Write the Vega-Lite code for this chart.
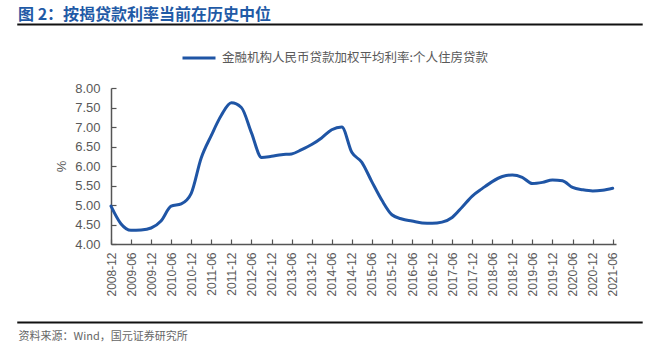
{
  "$schema": "https://vega.github.io/schema/vega-lite/v6.json",
  "autosize": {"type": "none"},
  "padding": {"left": 111, "top": 88, "right": 52, "bottom": 110},
  "width": 505,
  "height": 156,
  "background": "white",
  "title": {
    "text": "图 2：按揭贷款利率当前在历史中位",
    "anchor": "start",
    "frame": "group",
    "dx": -93,
    "font": "Noto Sans CJK SC",
    "fontSize": 16,
    "fontWeight": "bold",
    "color": "#1f5aa6",
    "offset": 0
  },
  "config": {
    "view": {"stroke": null},
    "axis": {
      "labelFont": "Liberation Sans",
      "labelColor": "#595959",
      "domainColor": "#555555",
      "domainWidth": 1.5,
      "tickColor": "#555555",
      "tickWidth": 1.2,
      "grid": false
    }
  },
  "data": {
    "values": [
      {"date": "2008-12-01", "rate": 4.97, "series": "金融机构人民币贷款加权平均利率:个人住房贷款"},
      {"date": "2009-03-01", "rate": 4.52, "series": "金融机构人民币贷款加权平均利率:个人住房贷款"},
      {"date": "2009-06-01", "rate": 4.35, "series": "金融机构人民币贷款加权平均利率:个人住房贷款"},
      {"date": "2009-09-01", "rate": 4.36, "series": "金融机构人民币贷款加权平均利率:个人住房贷款"},
      {"date": "2009-12-01", "rate": 4.41, "series": "金融机构人民币贷款加权平均利率:个人住房贷款"},
      {"date": "2010-03-01", "rate": 4.59, "series": "金融机构人民币贷款加权平均利率:个人住房贷款"},
      {"date": "2010-06-01", "rate": 4.97, "series": "金融机构人民币贷款加权平均利率:个人住房贷款"},
      {"date": "2010-09-01", "rate": 5.03, "series": "金融机构人民币贷款加权平均利率:个人住房贷款"},
      {"date": "2010-12-01", "rate": 5.30, "series": "金融机构人民币贷款加权平均利率:个人住房贷款"},
      {"date": "2011-03-01", "rate": 6.20, "series": "金融机构人民币贷款加权平均利率:个人住房贷款"},
      {"date": "2011-06-01", "rate": 6.78, "series": "金融机构人民币贷款加权平均利率:个人住房贷款"},
      {"date": "2011-09-01", "rate": 7.30, "series": "金融机构人民币贷款加权平均利率:个人住房贷款"},
      {"date": "2011-12-01", "rate": 7.62, "series": "金融机构人民币贷款加权平均利率:个人住房贷款"},
      {"date": "2012-03-01", "rate": 7.50, "series": "金融机构人民币贷款加权平均利率:个人住房贷款"},
      {"date": "2012-06-01", "rate": 6.85, "series": "金融机构人民币贷款加权平均利率:个人住房贷款"},
      {"date": "2012-09-01", "rate": 6.22, "series": "金融机构人民币贷款加权平均利率:个人住房贷款"},
      {"date": "2012-12-01", "rate": 6.25, "series": "金融机构人民币贷款加权平均利率:个人住房贷款"},
      {"date": "2013-03-01", "rate": 6.29, "series": "金融机构人民币贷款加权平均利率:个人住房贷款"},
      {"date": "2013-06-01", "rate": 6.31, "series": "金融机构人民币贷款加权平均利率:个人住房贷款"},
      {"date": "2013-09-01", "rate": 6.42, "series": "金融机构人民币贷款加权平均利率:个人住房贷款"},
      {"date": "2013-12-01", "rate": 6.55, "series": "金融机构人民币贷款加权平均利率:个人住房贷款"},
      {"date": "2014-03-01", "rate": 6.72, "series": "金融机构人民币贷款加权平均利率:个人住房贷款"},
      {"date": "2014-06-01", "rate": 6.93, "series": "金融机构人民币贷款加权平均利率:个人住房贷款"},
      {"date": "2014-09-01", "rate": 7.00, "series": "金融机构人民币贷款加权平均利率:个人住房贷款"},
      {"date": "2014-12-01", "rate": 6.35, "series": "金融机构人民币贷款加权平均利率:个人住房贷款"},
      {"date": "2015-03-01", "rate": 6.10, "series": "金融机构人民币贷款加权平均利率:个人住房贷款"},
      {"date": "2015-06-01", "rate": 5.60, "series": "金融机构人民币贷款加权平均利率:个人住房贷款"},
      {"date": "2015-09-01", "rate": 5.12, "series": "金融机构人民币贷款加权平均利率:个人住房贷款"},
      {"date": "2015-12-01", "rate": 4.75, "series": "金融机构人民币贷款加权平均利率:个人住房贷款"},
      {"date": "2016-03-01", "rate": 4.64, "series": "金融机构人民币贷款加权平均利率:个人住房贷款"},
      {"date": "2016-06-01", "rate": 4.59, "series": "金融机构人民币贷款加权平均利率:个人住房贷款"},
      {"date": "2016-09-01", "rate": 4.54, "series": "金融机构人民币贷款加权平均利率:个人住房贷款"},
      {"date": "2016-12-01", "rate": 4.53, "series": "金融机构人民币贷款加权平均利率:个人住房贷款"},
      {"date": "2017-03-01", "rate": 4.56, "series": "金融机构人民币贷款加权平均利率:个人住房贷款"},
      {"date": "2017-06-01", "rate": 4.68, "series": "金融机构人民币贷款加权平均利率:个人住房贷款"},
      {"date": "2017-09-01", "rate": 4.95, "series": "金融机构人民币贷款加权平均利率:个人住房贷款"},
      {"date": "2017-12-01", "rate": 5.23, "series": "金融机构人民币贷款加权平均利率:个人住房贷款"},
      {"date": "2018-03-01", "rate": 5.42, "series": "金融机构人民币贷款加权平均利率:个人住房贷款"},
      {"date": "2018-06-01", "rate": 5.60, "series": "金融机构人民币贷款加权平均利率:个人住房贷款"},
      {"date": "2018-09-01", "rate": 5.73, "series": "金融机构人民币贷款加权平均利率:个人住房贷款"},
      {"date": "2018-12-01", "rate": 5.77, "series": "金融机构人民币贷款加权平均利率:个人住房贷款"},
      {"date": "2019-03-01", "rate": 5.71, "series": "金融机构人民币贷款加权平均利率:个人住房贷款"},
      {"date": "2019-06-01", "rate": 5.55, "series": "金融机构人民币贷款加权平均利率:个人住房贷款"},
      {"date": "2019-09-01", "rate": 5.58, "series": "金融机构人民币贷款加权平均利率:个人住房贷款"},
      {"date": "2019-12-01", "rate": 5.64, "series": "金融机构人民币贷款加权平均利率:个人住房贷款"},
      {"date": "2020-03-01", "rate": 5.62, "series": "金融机构人民币贷款加权平均利率:个人住房贷款"},
      {"date": "2020-06-01", "rate": 5.45, "series": "金融机构人民币贷款加权平均利率:个人住房贷款"},
      {"date": "2020-09-01", "rate": 5.39, "series": "金融机构人民币贷款加权平均利率:个人住房贷款"},
      {"date": "2020-12-01", "rate": 5.36, "series": "金融机构人民币贷款加权平均利率:个人住房贷款"},
      {"date": "2021-03-01", "rate": 5.38, "series": "金融机构人民币贷款加权平均利率:个人住房贷款"},
      {"date": "2021-06-01", "rate": 5.43, "series": "金融机构人民币贷款加权平均利率:个人住房贷款"}
    ]
  },
  "layer": [
    {
      "data": {"values": [{"kind": "top"}]},
      "mark": {"type": "rule", "color": "#111111", "strokeWidth": 2, "clip": false},
      "encoding": {
        "x": {"datum": {"year": 2006, "month": 8, "date": 1, "utc": true}, "type": "temporal"},
        "x2": {"datum": {"year": 2022, "month": 3, "date": 1, "utc": true}},
        "y": {"datum": 9.63, "type": "quantitative"}
      }
    },
    {
      "data": {"values": [{"kind": "bottom"}]},
      "mark": {"type": "rule", "color": "#111111", "strokeWidth": 2, "clip": false},
      "encoding": {
        "x": {"datum": {"year": 2006, "month": 8, "date": 1, "utc": true}, "type": "temporal"},
        "x2": {"datum": {"year": 2022, "month": 3, "date": 1, "utc": true}},
        "y": {"datum": 1.99, "type": "quantitative"}
      }
    },
    {
      "mark": {"type": "line", "interpolate": "monotone", "strokeWidth": 3, "strokeCap": "round"},
      "encoding": {
        "x": {
          "field": "date",
          "type": "temporal",
          "scale": {
            "type": "utc",
            "domain": [
              {"year": 2008, "month": 12, "date": 1, "utc": true},
              {"year": 2021, "month": 7, "date": 1, "utc": true}
            ]
          },
          "axis": {
            "labelExpr": "utcFormat(datum.value, '%Y-%m')",
            "labelAngle": -90,
            "labelAlign": "right",
            "labelBaseline": "middle",
            "labelFontSize": 12,
            "labelPadding": 13,
            "tickSize": -5,
            "tickCount": 40,
            "labelOverlap": false,
            "values": [1228089600000, 1243814400000, 1259625600000, 1275350400000, 1291161600000, 1306886400000, 1322697600000, 1338508800000, 1354320000000, 1370044800000, 1385856000000, 1401580800000, 1417392000000, 1433116800000, 1448928000000, 1464739200000, 1480550400000, 1496275200000, 1512086400000, 1527811200000, 1543622400000, 1559347200000, 1575158400000, 1590969600000, 1606780800000, 1622505600000],
            "title": "资料来源：Wind，国元证券研究所",
            "titleFont": "Noto Sans CJK SC",
            "titleFontSize": 11,
            "titleFontWeight": "normal",
            "titleColor": "#666666",
            "titleAlign": "left",
            "titleAnchor": "start",
            "titleBaseline": "middle",
            "titleX": -93,
            "titleY": 92
          }
        },
        "y": {
          "field": "rate",
          "type": "quantitative",
          "scale": {"domain": [4, 8], "nice": false, "zero": false},
          "axis": {
            "values": [4, 4.5, 5, 5.5, 6, 6.5, 7, 7.5, 8],
            "tickCount": 12,
            "format": ".2f",
            "labelFontSize": 13,
            "labelPadding": 16,
            "labelOverlap": false,
            "tickSize": -5,
            "title": "%",
            "titleFont": "Liberation Sans",
            "titleFontSize": 13,
            "titleFontWeight": "normal",
            "titleColor": "#595959",
            "titlePadding": 6
          }
        },
        "color": {
          "field": "series",
          "type": "nominal",
          "scale": {"range": ["#1f55a5"]},
          "legend": {
            "title": null,
            "orient": "none",
            "legendX": 70,
            "legendY": -48,
            "padding": 0,
            "symbolType": "stroke",
            "symbolSize": 1089,
            "symbolStrokeWidth": 3,
            "labelFont": "Noto Sans CJK SC",
            "labelFontSize": 12.5,
            "labelColor": "#595959",
            "labelOffset": 5,
            "labelLimit": 0
          }
        }
      }
    }
  ]
}
